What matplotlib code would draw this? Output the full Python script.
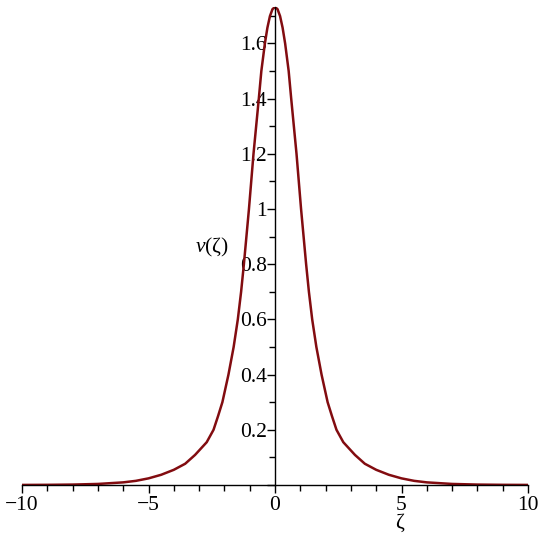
import matplotlib
matplotlib.use("Agg")
import matplotlib.pyplot as plt
from matplotlib.ticker import MultipleLocator, FuncFormatter

# --- values (left half, peak, right half) ---
zeta = [-10.0, -9.0, -8.0, -7.0, -6.0, -5.5, -5.0, -4.5, -4.0, -3.55, -3.16, -3.0,
        -2.7, -2.43, -2.25, -2.08, -1.84, -1.635, -1.47, -1.34, -1.23, -1.13, -1.03,
        -0.94, -0.85, -0.745, -0.64, -0.54, -0.4, -0.3, -0.2, -0.1, 0.0,
        0.1, 0.2, 0.3, 0.4, 0.54, 0.64, 0.745, 0.85, 0.94, 1.03, 1.13, 1.23,
        1.34, 1.47, 1.635, 1.84, 2.08, 2.25, 2.43, 2.7, 3.0, 3.16, 3.55, 4.0,
        4.5, 5.0, 5.5, 6.0, 7.0, 8.0, 9.0, 10.0]
v = [0.00025, 0.0006, 0.0015, 0.0038, 0.0095, 0.015, 0.024, 0.037, 0.055, 0.077, 0.109, 0.125,
     0.155, 0.2, 0.25, 0.3, 0.4, 0.5, 0.6, 0.7, 0.8, 0.9, 1.0,
     1.1, 1.2, 1.3, 1.4, 1.5, 1.6, 1.657, 1.699, 1.724, 1.732,
     1.724, 1.699, 1.657, 1.6, 1.5, 1.4, 1.3, 1.2, 1.1, 1.0, 0.9, 0.8,
     0.7, 0.6, 0.5, 0.4, 0.3, 0.25, 0.2, 0.155, 0.125, 0.109, 0.077, 0.055,
     0.037, 0.024, 0.015, 0.0095, 0.0038, 0.0015, 0.0006, 0.00025]

plt.rcParams['font.family'] = ['Liberation Serif', 'DejaVu Serif']
plt.rcParams['mathtext.fontset'] = 'custom'
plt.rcParams['mathtext.rm'] = 'Liberation Serif'
plt.rcParams['mathtext.it'] = 'Liberation Serif:italic'
plt.rcParams['font.size'] = 15.5

fig = plt.figure(figsize=(5.45, 5.5), dpi=100)
ax = fig.add_axes([0.0404, 0.1182, 0.9284, 0.8691])

ax.plot(zeta, v, color='#820c10', linewidth=1.8, solid_joinstyle='round')

ax.set_xlim(-10, 10)
ax.set_ylim(0, 1.732)

# Maple style axes crossing at the origin
ax.spines['left'].set_position(('data', 0))
ax.spines['bottom'].set_position(('data', 0))
ax.spines['top'].set_visible(False)
ax.spines['right'].set_visible(False)
for side in ('left', 'bottom'):
    ax.spines[side].set_linewidth(1.0)

ax.xaxis.set_major_locator(MultipleLocator(5))
ax.xaxis.set_minor_locator(MultipleLocator(1))
ax.yaxis.set_major_locator(MultipleLocator(0.2))
ax.yaxis.set_minor_locator(MultipleLocator(0.1))

ax.xaxis.set_major_formatter(FuncFormatter(lambda x, p: ('%g' % x).replace('-', '\u2212')))
ax.yaxis.set_major_formatter(FuncFormatter(lambda y, p: '' if abs(y) < 1e-9 else '%g' % round(y, 1)))

ax.tick_params(axis='x', which='major', direction='out', length=6, width=1, pad=2)
ax.tick_params(axis='x', which='minor', direction='out', length=4, width=1)
ax.tick_params(axis='y', which='major', direction='out', length=6, width=1, pad=0)
ax.tick_params(axis='y', which='minor', direction='out', length=4, width=1)

ax.set_xlabel('\u03b6', va='center')
ax.xaxis.set_label_coords(0.747, -0.080)
ax.set_ylabel('$v$(\u03b6)', rotation=0, ha='center', va='center')
ax.yaxis.set_label_coords(0.375, 0.496)

fig.savefig('out.png', dpi=100)
